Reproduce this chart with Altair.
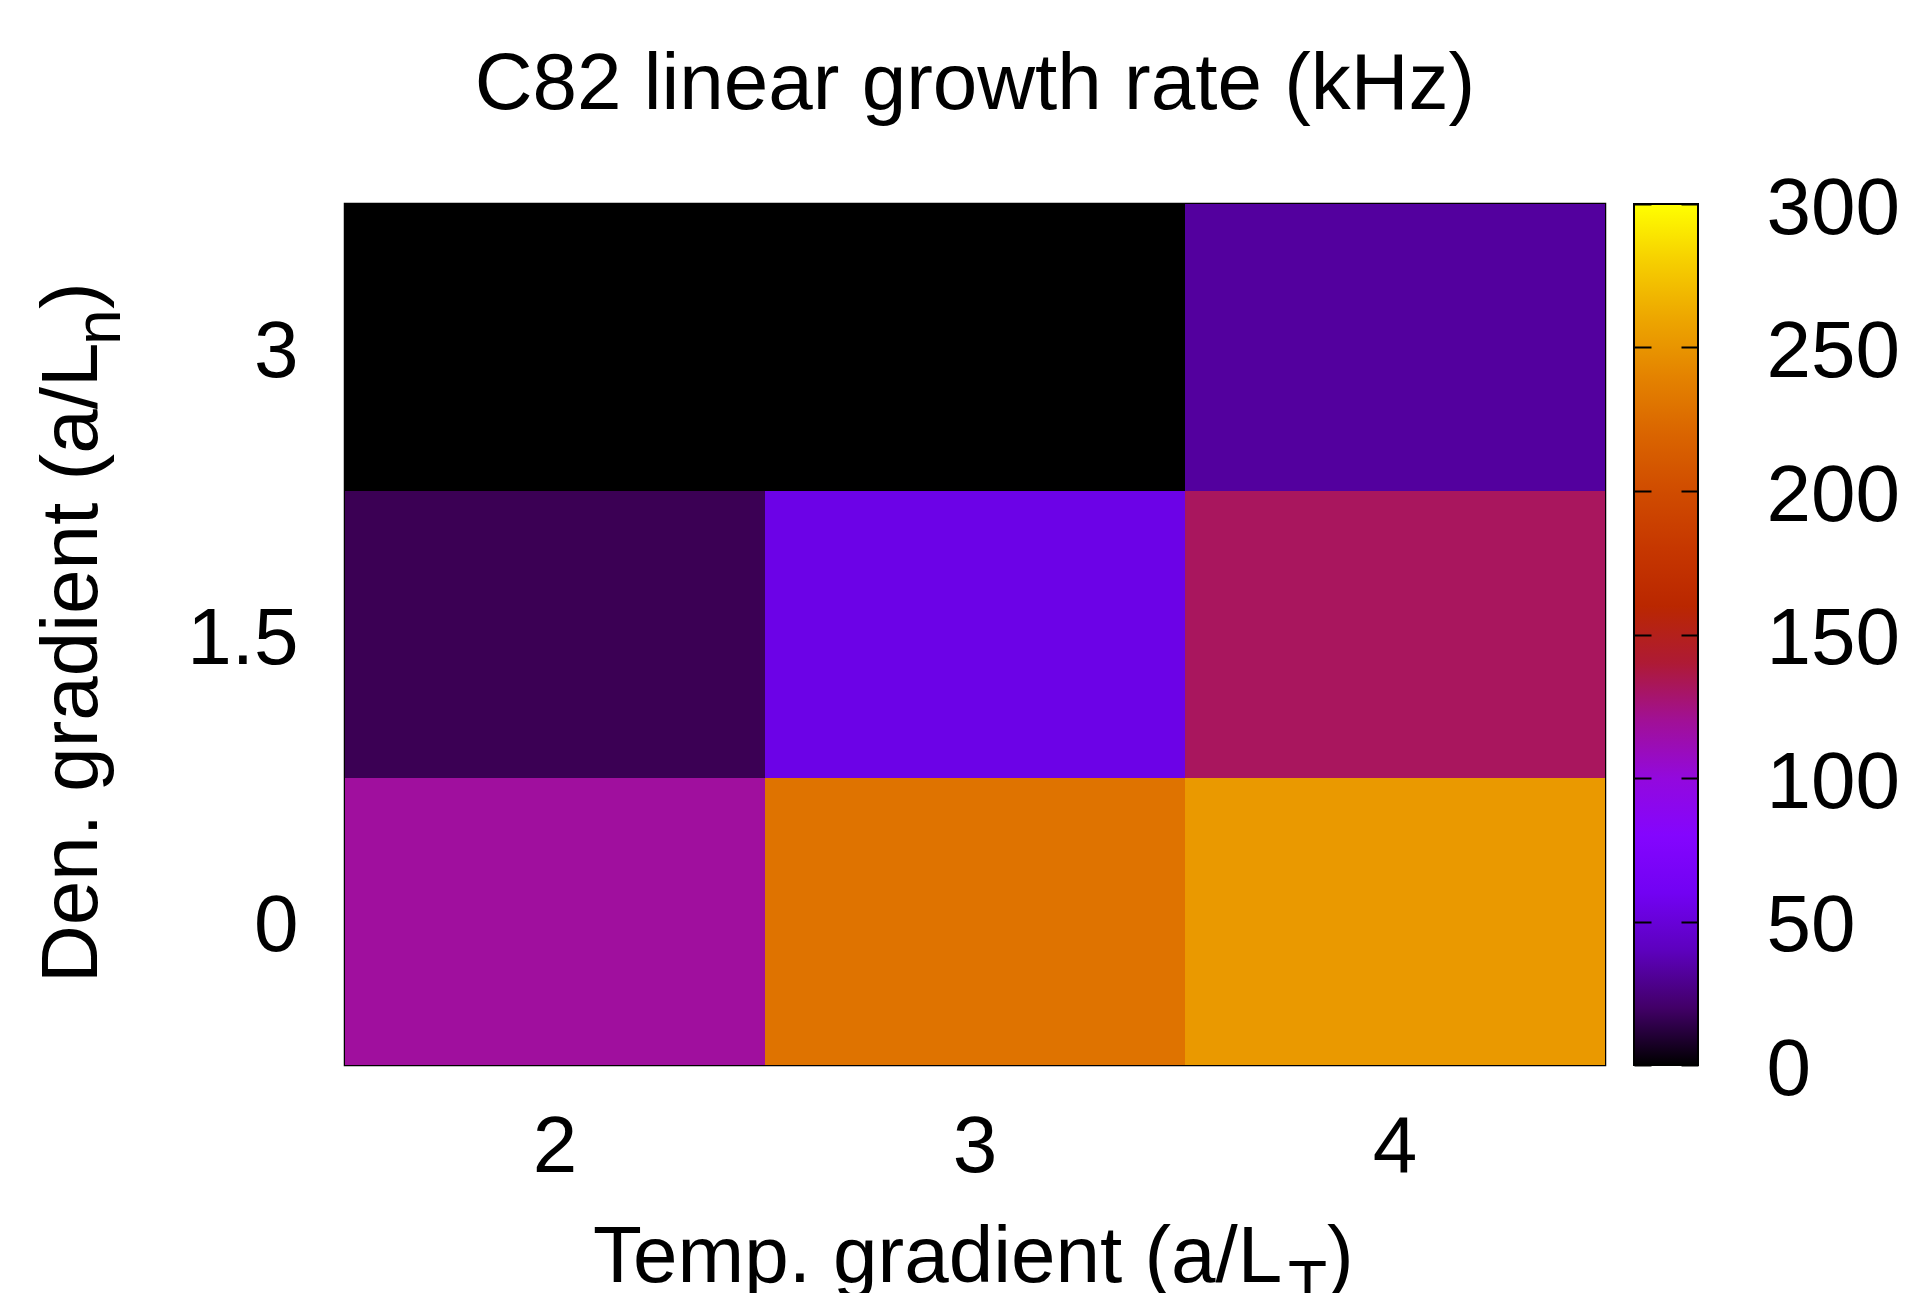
import altair as alt
import pandas as pd
import numpy as np

# ---- data ----
temp_grad = ["2", "3", "4"]                 # x categories (a/L_T)
den_grad = ["0", "1.5", "3"]                # y categories (a/L_n)
rate_den_0 = [118, 230, 253]                # growth rate (kHz) at a/L_n = 0
rate_den_15 = [16, 54, 132]                 # at a/L_n = 1.5
rate_den_3 = [0, 0, 32]                     # at a/L_n = 3
cbar_ticks = [0, 50, 100, 150, 200, 250, 300]

rows = []
for d, vals in zip(den_grad, [rate_den_0, rate_den_15, rate_den_3]):
    for t, v in zip(temp_grad, vals):
        rows.append({"T": t, "n": d, "rate": v})
df = pd.DataFrame(rows)
ticks_df = pd.DataFrame({"tick": cbar_ticks})

# ---- gnuplot default palette (rgbformulae 7,5,15) as colour stops ----
def pal(x):
    r = np.sqrt(x)
    g = x ** 3
    b = min(max(np.sin(2 * np.pi * x), 0.0), 1.0)
    return "#%02x%02x%02x" % tuple(int(round(c * 255)) for c in (r, g, b))

stops = np.linspace(0.0, 1.0, 61)
pal_domain = [float(s * 300) for s in stops]
pal_range = [pal(s) for s in stops]

FONT = "Liberation Sans"
FS = 80
SUB = 64
W, H = 1260, 861

heat = alt.Chart(df).mark_rect().encode(
    x=alt.X("T:O", sort=temp_grad,
            scale=alt.Scale(paddingInner=0, paddingOuter=0),
            axis=alt.Axis(title=None, labelAngle=0, ticks=False, domain=False,
                          labelPadding=43, labelFontSize=FS, labelFont=FONT,
                          labelColor="black")),
    y=alt.Y("n:O", sort=list(reversed(den_grad)),
            scale=alt.Scale(paddingInner=0, paddingOuter=0),
            axis=alt.Axis(title=None, ticks=False, domain=False,
                          labelPadding=47, labelFontSize=FS, labelFont=FONT,
                          labelOffset=5, labelColor="black")),
    color=alt.Color("rate:Q",
                    scale=alt.Scale(domain=pal_domain, range=pal_range, interpolate="rgb"),
                    legend=alt.Legend(orient="none", legendX=1289, legendY=0,
                                      direction="vertical", title=None, type="gradient",
                                      gradientLength=H, gradientThickness=64,
                                      gradientStrokeColor="black", gradientStrokeWidth=2,
                                      values=cbar_ticks, labelExpr="''",
                                      labelOverlap=False, padding=0)),
)

# colour-bar ticks (inside, on both edges) and labels, drawn as axes above the gradient
tick_l = alt.Chart(ticks_df).mark_rule(strokeOpacity=0).encode(
    y=alt.Y("tick:Q", scale=alt.Scale(domain=[0, 300], nice=False, zero=False),
            axis=alt.Axis(orient="right", offset=29, values=cbar_ticks, title=None,
                          domain=False, grid=False, tickSize=17, tickWidth=2,
                          tickColor="black", labelPadding=115, labelFontSize=FS,
                          labelFont=FONT, labelColor="black", labelOffset=5,
                          labelOverlap=False, labelFlush=False, labelBound=False,
                          zindex=1)),
)
tick_r = alt.Chart(ticks_df).mark_rule(strokeOpacity=0).encode(
    y=alt.Y("tick:Q", scale=alt.Scale(domain=[0, 300], nice=False, zero=False),
            axis=alt.Axis(orient="left", offset=-1353, values=cbar_ticks, title=None,
                          domain=False, grid=False, tickSize=17, tickWidth=2,
                          tickColor="black", labels=False, zindex=1)),
)


def txt(s, x, y, size, angle=0, align="left"):
    return alt.Chart(pd.DataFrame({"s": [s]})).mark_text(
        align=align, baseline="alphabetic", fontSize=size, font=FONT,
        angle=angle, color="black").encode(
        x=alt.value(x), y=alt.value(y), text="s:N")


title = txt("C82 linear growth rate (kHz)", W / 2, -95, FS, align="center")
# x title with subscript
xt_main = txt("Temp. gradient (a/L", 248, 1078, FS)
xt_sub = txt("T", 943, 1102, SUB)
xt_end = txt(")", 982, 1078, FS)
# y title (rotated) with subscript
yt_main = txt("Den. gradient (a/L", -248, 779, FS, angle=270)
yt_sub = txt("n", -225, 141, SUB, angle=270)
yt_end = txt(")", -248, 105, FS, angle=270)

chart = alt.layer(
    heat, tick_l, tick_r, title, xt_main, xt_sub, xt_end, yt_main, yt_sub, yt_end
).resolve_scale(y="independent").properties(
    width=W, height=H,
    autosize=alt.AutoSizeParams(type="none"),
    padding={"left": 345, "top": 204, "right": 300, "bottom": 228},
    background="white",
).configure_view(stroke="black", strokeWidth=2.5)

chart.save("out.html", embed_options={"renderer": "svg", "actions": False})
